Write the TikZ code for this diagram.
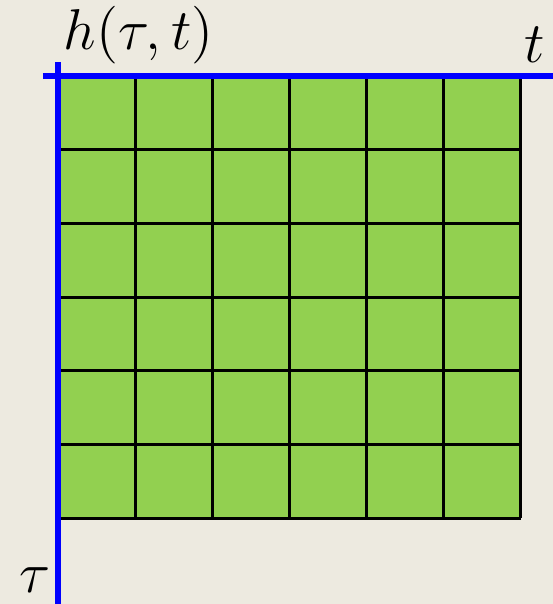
\documentclass[tikz,border=0pt]{standalone}
\usepackage{tikz}

\definecolor{paper}{HTML}{EDEAE0}
\definecolor{cellgreen}{HTML}{92D050}

\begin{document}
\begin{tikzpicture}[x=0.25pt,y=-0.25pt,
  axis/.style={draw=blue,line width=1.3pt},
  gridline/.style={draw=black,line width=0.75pt},
  lab/.style={font=\fontsize{13.7}{16}\selectfont,inner sep=0pt}]
% background and bounding box
\fill[paper] (0,0) rectangle (553,604);
\useasboundingbox (0,0) rectangle (553,604);
% the green field
\fill[cellgreen] (59,76) rectangle (521,518);
\foreach \i in {1,...,6}
  \draw[gridline] ({59+77*\i},76) -- ({59+77*\i},518);
\foreach \j in {1,...,6}
  \draw[gridline] (59,{76+73.67*\j}) -- (521,{76+73.67*\j});
% axes
\coordinate (tl) at (43,76);
\coordinate (tr) at (553,76);
\coordinate (tt) at (58,62);
\coordinate (tb) at (58,604);
\draw[axis] (tl) -- (tr);
\draw[axis] (tt) -- (tb);
% labels
\node[lab,anchor=base west] (h) at (63,49) {$h(\tau,t)$};
\node[lab,anchor=base west] (t) at (524,62) {$t$};
\node[lab,anchor=base west] (tau) at (19,592) {$\tau$};
\end{tikzpicture}
\end{document}
